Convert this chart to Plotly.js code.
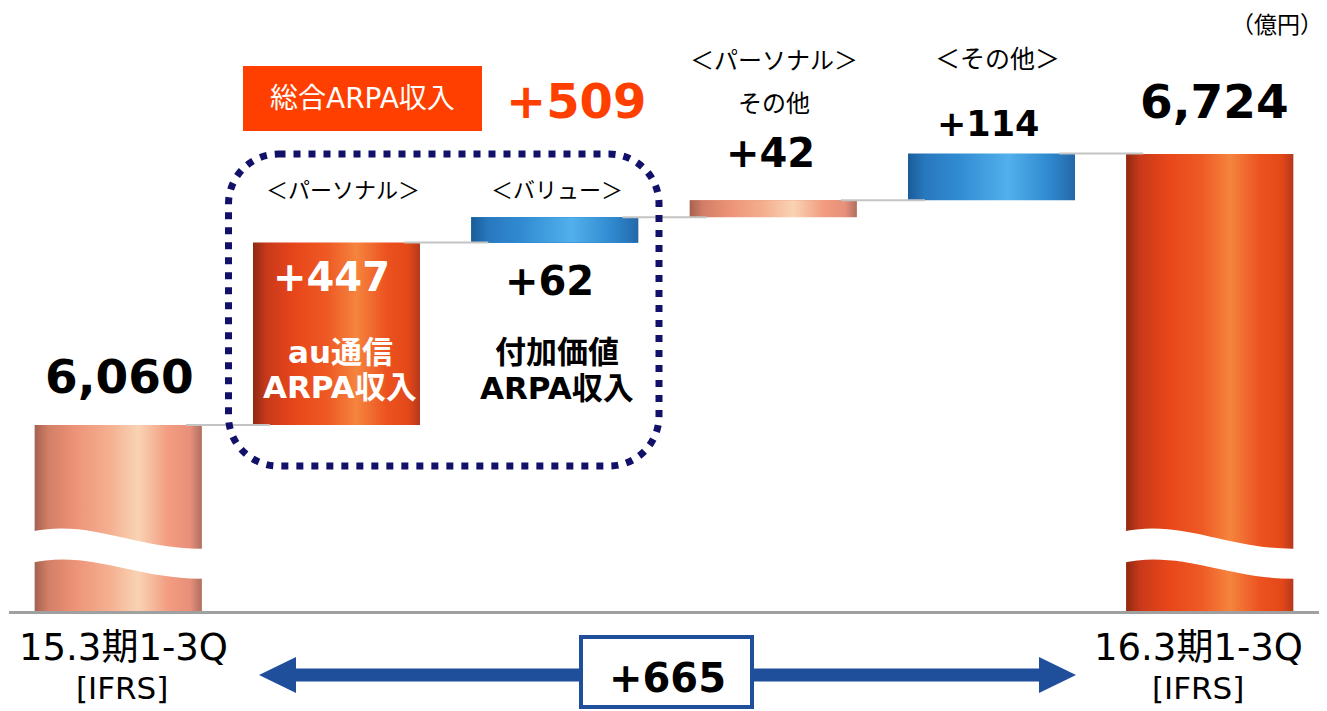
<!DOCTYPE html>
<html><head><meta charset="utf-8">
<script src="https://cdn.plot.ly/plotly-3.0.1.min.js"></script>
<style>html,body{margin:0;padding:0;background:#fff;}#chart{width:1327px;height:711px;}</style>
</head><body><div id="chart"></div>
<script>
// ---- data ----
const categories = ['15.3期1-3Q', 'au通信ARPA収入', '付加価値ARPA収入', 'パーソナル その他', 'その他', '16.3期1-3Q'];
const openingTotal = 6060;
const closingTotal = 6724;
const increments = [447, 62, 42, 114];
const valueLabels = ['6,060', '+447', '+62', '+42', '+114', '6,724'];
const groupLabels = ['＜パーソナル＞', '＜バリュー＞', '＜パーソナル＞', '＜その他＞'];
const itemLines = [['au通信', 'ARPA収入'], ['付加価値', 'ARPA収入'], ['その他']];
const periodLabels = ['15.3期1-3Q', '16.3期1-3Q'];
const basisLabel = '[IFRS]';
const unitLabel = '（億円）';
const arpaTotalLabel = '総合ARPA収入';
const arpaTotalValue = '+509';
const totalChangeLabel = '+665';
const barColorKeys = ['salmon', 'orange', 'blue', 'salmon', 'blue', 'orange'];

// ---- styles ----
const baseColors = {salmon: '#EE9A7E', orange: '#E9471A', blue: '#2F8AD0'};
const gradients = {
  salmon: [[0,'#A4614F'],[0.08,'#D27E66'],[0.25,'#EE9478'],[0.45,'#F4B090'],[0.62,'#F9D3B4'],[0.8,'#F29C80'],[0.93,'#E8907A'],[1,'#B07062']],
  orange: [[0,'#8E2A12'],[0.08,'#C8391A'],[0.25,'#E8461A'],[0.45,'#EE5A24'],[0.62,'#F5843E'],[0.8,'#EC5220'],[0.93,'#E44818'],[1,'#B4391C']],
  blue:   [[0,'#1A5C98'],[0.1,'#2878BE'],[0.3,'#318BD2'],[0.6,'#52B0EC'],[0.85,'#2F88CE'],[1,'#2468A8']]
};
const BAR_W = 0.765;
const NAVY = '#11116A';
const ARROW_BLUE = '#1F4E9B';
const RED = '#FF3F00';
const LATIN = 'DejaVu Sans, Noto Sans CJK JP, sans-serif';
const CJK = 'Noto Sans CJK JP, DejaVu Sans, sans-serif';

// ---- geometry derived from data ----
const xs = categories.map((_, i) => i);
const bases = [0], heights = [openingTotal];
let running = openingTotal;
increments.forEach(v => { bases.push(running); heights.push(v); running += v; });
bases.push(0); heights.push(closingTotal);
const tops = heights.map((h, i) => bases[i] + h);

// plot frame: margins l=9, r=8, t=11, b=100 -> 1310 x 600
const M = {l: 9, r: 8, t: 11, b: 100};
const PW = 1327 - M.l - M.r, PH = 711 - M.t - M.b;
const yRange = [5604.3, 7074.4];
const X = px => (px - M.l) / PW;          // pixel -> paper x
const Y = py => (711 - M.b - py) / PH;    // pixel -> paper y

const traces = [];
traces.push({
  type: 'bar', x: xs, y: heights, base: bases, width: BAR_W,
  marker: {color: barColorKeys.map(k => baseColors[k]), line: {width: 0}},
  hoverinfo: 'skip', showlegend: false
});
// gradient shading for each bar (same geometry as bars)
xs.forEach((x, i) => {
  const x0 = x - BAR_W / 2, x1 = x + BAR_W / 2;
  const y0 = Math.max(bases[i], yRange[0] - 50), y1 = tops[i];
  traces.push({
    type: 'scatter', mode: 'lines', x: [x0, x1, x1, x0, x0], y: [y0, y0, y1, y1, y0],
    line: {width: 0}, fill: 'toself',
    fillgradient: {type: 'horizontal', start: x0, stop: x1, colorscale: gradients[barColorKeys[i]]},
    hoverinfo: 'skip', showlegend: false
  });
});

const shapes = [];
// connectors
for (let i = 0; i < xs.length - 1; i++) {
  shapes.push({type: 'line', xref: 'x', yref: 'y', layer: 'above',
    x0: xs[i] + 0.31, x1: xs[i + 1] - 0.305, y0: tops[i], y1: tops[i],
    line: {color: '#C4C4C4', width: 2}});
}
// axis break bands on the total bars
[0, xs.length - 1].forEach(i => {
  const xl = xs[i] - BAR_W / 2 - 0.03, xr = xs[i] + BAR_W / 2 + 0.03, w = xr - xl;
  const t0 = 0.131, t1 = 0.104, b0 = 0.079, b1 = 0.054;
  const p = `M ${xl},${t0} C ${xl + 0.35 * w},${t0 + 0.025} ${xl + 0.6 * w},${t1 - 0.004} ${xr},${t1} ` +
            `L ${xr},${b1} C ${xl + 0.6 * w},${b1 - 0.004} ${xl + 0.35 * w},${b0 + 0.025} ${xl},${b0} Z`;
  shapes.push({type: 'path', xref: 'x', yref: 'paper', layer: 'above', path: p,
    fillcolor: '#FFFFFF', line: {width: 0}});
});
// dotted rounded rectangle grouping the ARPA items
function roundRect(x0, y0, x1, y1, r) {
  const k = 0.5523 * r;
  const P = (px, py) => `${X(px)},${Y(py)}`;
  return `M ${P(x0 + r, y0)} L ${P(x1 - r, y0)} C ${P(x1 - r + k, y0)} ${P(x1, y0 + r - k)} ${P(x1, y0 + r)} ` +
         `L ${P(x1, y1 - r)} C ${P(x1, y1 - r + k)} ${P(x1 - r + k, y1)} ${P(x1 - r, y1)} ` +
         `L ${P(x0 + r, y1)} C ${P(x0 + r - k, y1)} ${P(x0, y1 - r + k)} ${P(x0, y1 - r)} ` +
         `L ${P(x0, y0 + r)} C ${P(x0, y0 + r - k)} ${P(x0 + r - k, y0)} ${P(x0 + r, y0)} Z`;
}
shapes.push({type: 'path', xref: 'paper', yref: 'paper', layer: 'above',
  path: roundRect(228.5, 154, 659, 466, 50), line: {color: NAVY, width: 7, dash: '7px,8px'}});
// red label box
shapes.push({type: 'rect', xref: 'paper', yref: 'paper', layer: 'above',
  x0: X(243), x1: X(482), y0: Y(131), y1: Y(66), fillcolor: RED, line: {width: 0}});
// double arrow
shapes.push({type: 'line', xref: 'paper', yref: 'paper', x0: X(290), x1: X(1045), y0: Y(675), y1: Y(675),
  line: {color: ARROW_BLUE, width: 13}});
shapes.push({type: 'path', xref: 'paper', yref: 'paper',
  path: `M ${X(259)},${Y(675)} L ${X(296)},${Y(657)} L ${X(296)},${Y(693)} Z`, fillcolor: ARROW_BLUE, line: {width: 0}});
shapes.push({type: 'path', xref: 'paper', yref: 'paper',
  path: `M ${X(1076)},${Y(675)} L ${X(1039)},${Y(657)} L ${X(1039)},${Y(693)} Z`, fillcolor: ARROW_BLUE, line: {width: 0}});
shapes.push({type: 'rect', xref: 'paper', yref: 'paper', x0: X(581), x1: X(752), y0: Y(707), y1: Y(637),
  fillcolor: '#FFFFFF', line: {color: ARROW_BLUE, width: 4}});

// ---- annotations ----
const ann = [];
function T(text, px, py, size, opts = {}) {
  ann.push({text, xref: 'paper', yref: 'paper', x: X(px), y: Y(py), xanchor: opts.anchor || 'center', yanchor: 'middle',
    showarrow: false,
    font: {family: opts.family || LATIN, size, color: opts.color || '#000', weight: opts.bold ? 700 : 400}});
}
T(valueLabels[0], 119, 376, 47, {bold: true});
T(valueLabels[5], 1214, 101, 47, {bold: true});
T(valueLabels[1], 331, 277, 40, {bold: true, color: '#FFFFFF'});
T(itemLines[0][0], 340, 352, 31, {bold: true, color: '#FFFFFF'});
T(itemLines[0][1], 340, 387, 31, {bold: true, color: '#FFFFFF'});
T(valueLabels[2], 549, 281, 40, {bold: true});
T(itemLines[1][0], 557, 352, 31, {bold: true});
T(itemLines[1][1], 557, 388, 31, {bold: true});
T(groupLabels[0], 343, 188, 22, {family: CJK});
T(groupLabels[1], 557, 188, 22, {family: CJK});
T(groupLabels[2], 774, 58, 24, {family: CJK});
T(itemLines[2][0], 774, 102, 24, {family: CJK});
T(valueLabels[3], 770, 153, 40, {bold: true});
T(groupLabels[3], 997, 57, 25, {family: CJK});
T(valueLabels[4], 988, 124, 35, {bold: true});
T(unitLabel, 1325, 23, 23, {family: CJK, anchor: 'right'});
T(arpaTotalLabel, 362, 98, 28, {color: '#FFFFFF'});
T(arpaTotalValue, 576, 101, 48, {bold: true, color: RED});
T(periodLabels[0], 124, 647, 37);
T(basisLabel, 122, 688, 31);
T(periodLabels[1], 1198, 647, 37);
T(basisLabel, 1198, 688, 31);
T(totalChangeLabel, 667, 678, 40, {bold: true});

const layout = {
  width: 1327, height: 711, margin: M,
  paper_bgcolor: '#FFFFFF', plot_bgcolor: '#FFFFFF', showlegend: false,
  font: {family: LATIN},
  xaxis: {range: [-0.5, 5.5], showgrid: false, zeroline: false, showticklabels: false, ticks: '',
    showline: true, linecolor: '#A0A0A0', linewidth: 3, fixedrange: true},
  yaxis: {range: yRange, visible: false, showgrid: false, zeroline: false, fixedrange: true},
  bargap: 0, shapes, annotations: ann
};
Plotly.newPlot('chart', traces, layout, {staticPlot: true, displayModeBar: false});
</script></body></html>
